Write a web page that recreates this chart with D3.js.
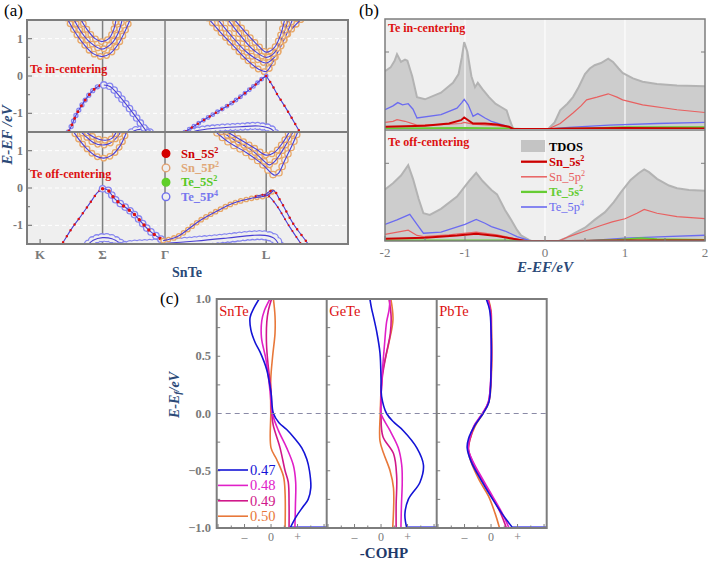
<!DOCTYPE html>
<html>
<head>
<meta charset="utf-8">
<script src="https://cdnjs.cloudflare.com/ajax/libs/d3/7.8.5/d3.min.js"></script>
<style>
  body { margin: 0; background: #fff; }
  svg { display: block; }
  text { font-family: 'Liberation Serif', 'DejaVu Serif', serif; }
</style>
</head>
<body>
<svg id="fig" width="709" height="561" font-family="Liberation Serif, DejaVu Serif, serif"></svg>
<script>
// ---------------- data: panel (a) band structure, [k, E] ----------------
const kNames = ['K', 'Σ', 'Γ', 'L'];
const kPos = [0, 1, 2, 3.62];
const aYTicks = [-1, 0, 1];

// Te in-centering
const inCondS1 = [[0.43,1.55],[0.55,1.2],[0.7,0.85],[0.85,0.6],[0.99,0.52],[1.12,0.6],[1.25,0.85],[1.36,1.2],[1.45,1.55]];
const inCondS2 = [[0.53,1.55],[0.65,1.2],[0.8,0.9],[0.99,0.72],[1.15,0.88],[1.25,1.15],[1.32,1.55]];
const inCondS3 = [[0.64,1.55],[0.75,1.25],[0.88,1.0],[0.99,0.92],[1.1,1.0],[1.18,1.25],[1.22,1.55]];
const inCondL1 = [[2.69,1.55],[2.9,1.15],[3.1,0.8],[3.3,0.45],[3.5,0.18],[3.62,0.12],[3.72,0.35],[3.85,0.8],[4.0,1.2],[4.2,1.55]];
const inCondL2 = [[2.83,1.55],[3.05,1.1],[3.3,0.65],[3.5,0.42],[3.62,0.35],[3.75,0.5],[3.9,0.95],[4.05,1.55]];
const inCondL3 = [[2.99,1.55],[3.2,1.1],[3.4,0.72],[3.62,0.5],[3.75,0.62],[3.88,1.05],[3.98,1.55]];
const inCondL4 = [[3.09,1.55],[3.3,1.15],[3.5,0.8],[3.62,0.64],[3.75,0.76],[3.85,1.1],[3.92,1.55]];
const inValSLeft = [[0.38,-1.6],[0.45,-1.5],[0.59,-1.0],[0.72,-0.65],[0.85,-0.38],[0.95,-0.26],[1.02,-0.24]];
const inValSRight = [[1.02,-0.24],[1.12,-0.28],[1.28,-0.56],[1.49,-1.0],[1.71,-1.5],[1.75,-1.6]];
const inValLLeft = [[2.25,-1.6],[2.32,-1.5],[2.7,-1.1],[3.09,-0.7],[3.4,-0.3],[3.55,-0.08],[3.62,0.0]];
const inValLRight = [[3.62,0.0],[3.7,-0.2],[3.8,-0.5],[3.95,-0.9],[4.16,-1.5],[4.2,-1.6]];
const inHumpS = [[1.4,-1.6],[1.5,-1.47],[1.62,-1.43],[1.75,-1.5],[1.8,-1.6]];
const inHumpL = [[2.3,-1.6],[2.5,-1.47],[2.8,-1.4],[3.2,-1.36],[3.5,-1.34],[3.7,-1.42],[3.8,-1.6]];

// Te off-centering
const offCondS1 = [[0.5,1.6],[0.6,1.35],[0.75,1.05],[0.9,0.85],[1.02,0.8],[1.15,0.88],[1.27,1.1],[1.36,1.4],[1.4,1.6]];
const offCondS2 = [[0.6,1.6],[0.72,1.4],[0.85,1.22],[1.0,1.15],[1.12,1.2],[1.25,1.4],[1.32,1.6]];
const offCondS3 = [[0.68,1.6],[0.8,1.42],[0.95,1.3],[1.05,1.28],[1.15,1.33],[1.25,1.6]];
const offCondL1 = [[2.75,1.6],[3.0,1.25],[3.3,0.95],[3.55,0.65],[3.7,0.4],[3.76,0.34],[3.82,0.4],[3.92,0.75],[4.05,1.2],[4.15,1.6]];
const offCondL2 = [[2.82,1.6],[3.1,1.3],[3.4,1.0],[3.6,0.7],[3.67,0.62],[3.75,0.7],[3.88,1.0],[4.0,1.35],[4.08,1.6]];
const offCondL3 = [[2.9,1.6],[3.2,1.3],[3.45,1.05],[3.62,0.88],[3.75,0.95],[3.9,1.25],[4.02,1.6]];
const offValK = [[0.3,-1.6],[0.35,-1.5],[0.5,-1.1],[0.64,-0.78],[0.8,-0.4],[0.92,-0.12],[1.0,-0.02]];
const offValS = [[1.0,-0.02],[1.08,-0.05],[1.2,-0.3],[1.49,-0.68],[1.75,-1.14],[1.97,-1.41]];
const offValGL = [[1.97,-1.41],[2.2,-1.3],[2.56,-0.87],[2.85,-0.6],[3.09,-0.41],[3.4,-0.27],[3.63,-0.2],[3.73,-0.08]];
const offValL1 = [[3.6,-0.19],[3.73,-0.06],[3.85,-0.35],[4.05,-0.95],[4.29,-1.5],[4.32,-1.6]];
const offValL2 = [[3.45,-0.22],[3.63,-0.19],[3.78,-0.45],[3.98,-1.0],[4.2,-1.55]];
const offHumpS = [[0.72,-1.6],[0.85,-1.4],[1.0,-1.33],[1.15,-1.36],[1.3,-1.5],[1.38,-1.6]];
const offHumpL = [[1.2,-1.6],[1.5,-1.52],[2.0,-1.48],[2.5,-1.42],[3.0,-1.34],[3.4,-1.27],[3.6,-1.27],[3.75,-1.35],[3.85,-1.6]];

const orbitalNames = ['Sn_5S', 'Sn_5P', 'Te_5S', 'Te_5P'];
const orbitalSup = ['2', '2', '2', '4'];

// ---------------- data: panel (b) PDOS, [E, DOS] ----------------
const dosXTicks = [-2, -1, 0, 1, 2];
const tdosIn = [[-2,5.26],[-1.93,5.6],[-1.88,6.2],[-1.85,6.8],[-1.8,6.1],[-1.75,6.3],[-1.72,6.2],[-1.66,4.8],[-1.6,2.9],[-1.5,2.7],[-1.3,3.3],[-1.15,4.2],[-1.08,5.0],[-1.04,6.5],[-1.01,7.9],[-0.97,7.0],[-0.92,4.8],[-0.875,3.8],[-0.84,4.2],[-0.78,3.6],[-0.7,2.9],[-0.62,2.3],[-0.55,2.0],[-0.48,1.7],[-0.44,0.8],[-0.4,0.05],[-0.3,0],[0.04,0],[0.12,0.6],[0.19,1.7],[0.28,2.3],[0.35,2.9],[0.42,3.8],[0.5,5.0],[0.56,5.5],[0.62,5.8],[0.7,6.0],[0.79,6.4],[0.85,6.1],[0.92,5.5],[0.97,5.1],[1.1,4.6],[1.22,4.3],[1.4,4.1],[1.65,3.95],[2.0,3.88]];
const sn5sIn = [[-2,0.2],[-1.5,0.3],[-1.2,0.5],[-1.05,0.8],[-1.01,1.05],[-0.96,0.8],[-0.9,0.5],[-0.75,0.5],[-0.6,0.4],[-0.45,0.2],[-0.4,0],[0.05,0],[0.3,0.05],[1,0.1],[2,0.05]];
const sn5pIn = [[-2,0.6],[-1.9,0.7],[-1.85,0.85],[-1.75,0.7],[-1.6,0.35],[-1.3,0.4],[-1.05,0.5],[-1.01,0.6],[-0.9,0.45],[-0.6,0.3],[-0.42,0.1],[-0.38,0],[0.04,0],[0.19,0.5],[0.35,1.45],[0.45,2.1],[0.52,2.65],[0.65,2.9],[0.79,3.2],[0.9,2.9],[0.97,2.65],[1.22,2.2],[1.65,1.75],[2,1.5]];
const te5sIn = [[-2,0.05],[-1,0.1],[-0.4,0.05],[-0.38,0],[0.05,0],[0.5,0.05],[1,0.15],[1.5,0.15],[2,0.15]];
const te5pIn = [[-2,1.75],[-1.9,2.1],[-1.84,2.4],[-1.78,2.2],[-1.71,2.3],[-1.65,1.8],[-1.6,1.0],[-1.3,1.3],[-1.1,1.9],[-1.04,2.4],[-1.01,2.7],[-0.96,2.2],[-0.9,1.15],[-0.84,1.4],[-0.75,1.0],[-0.67,0.7],[-0.5,0.3],[-0.42,0.1],[-0.38,0],[0.05,0],[0.3,0.15],[0.8,0.35],[1.4,0.5],[2,0.6]];
const tdosOff = [[-2,4.64],[-1.9,5.2],[-1.8,5.9],[-1.71,6.84],[-1.65,5.6],[-1.58,3.8],[-1.52,2.5],[-1.44,2.35],[-1.3,2.9],[-1.1,4.0],[-0.95,5.4],[-0.86,6.14],[-0.78,5.4],[-0.67,4.6],[-0.6,4.2],[-0.5,2.8],[-0.42,1.87],[-0.35,1.0],[-0.3,0.5],[-0.2,0.1],[-0.17,0],[0.17,0],[0.27,0.3],[0.37,0.7],[0.5,1.2],[0.62,1.9],[0.75,2.6],[0.86,3.5],[0.95,4.4],[1.07,5.5],[1.17,6.1],[1.24,6.45],[1.3,6.2],[1.4,5.6],[1.55,5.0],[1.65,4.75],[1.8,4.6],[2,4.52]];
const sn5sOff = [[-2,0.2],[-1.5,0.3],[-1.1,0.5],[-0.86,0.66],[-0.6,0.45],[-0.4,0.2],[-0.25,0],[0.3,0],[1,0.05],[2,0.05]];
const sn5pOff = [[-2,0.6],[-1.71,0.97],[-1.6,0.5],[-1.52,0.4],[-1.2,0.55],[-0.86,0.8],[-0.6,0.55],[-0.4,0.25],[-0.2,0.02],[-0.17,0],[0.17,0],[0.3,0.4],[0.5,0.9],[0.7,1.4],[0.84,1.72],[1.0,2.0],[1.15,2.5],[1.24,2.84],[1.4,2.5],[1.65,2.2],[2,2.02]];
const te5sOff = [[-2,0.05],[-0.3,0.05],[-0.25,0],[0.5,0],[0.9,0.1],[1.2,0.25],[1.4,0.15],[2,0.1]];
const te5pOff = [[-2,1.5],[-1.85,1.9],[-1.69,2.4],[-1.6,1.5],[-1.52,0.7],[-1.3,0.8],[-1.0,1.5],[-0.86,1.95],[-0.75,1.6],[-0.67,1.3],[-0.5,0.9],[-0.35,0.4],[-0.2,0.05],[-0.17,0],[0.5,0],[1.0,0.25],[1.5,0.4],[2,0.52]];
const dosNames = ['Sn_5s', 'Sn_5p', 'Te_5s', 'Te_5p'];

// ---------------- data: panel (c) COHP, [-COHP, E] ----------------
const compounds = ['SnTe', 'GeTe', 'PbTe'];
const fractions = ['0.47', '0.48', '0.49', '0.50'];
const cohpYTicks = [-1, -0.5, 0, 0.5, 1];
const cohpXTicks = [-1, 0, 1];
const cohpXLabels = ['–', '0', '+'];

const snte47 = [[-0.45,1.0],[-0.65,0.92],[-0.79,0.84],[-0.76,0.73],[-0.6,0.62],[-0.42,0.54],[-0.16,0.38],[0.0,0.18],[0.09,0.0],[0.3,-0.08],[0.59,-0.14],[0.9,-0.22],[1.16,-0.3],[1.35,-0.4],[1.45,-0.5],[1.5,-0.65],[1.4,-0.75],[1.22,-0.81],[0.95,-0.9],[0.72,-1.0]];
const snte48 = [[-0.04,1.0],[-0.25,0.9],[-0.35,0.81],[-0.36,0.66],[-0.19,0.47],[-0.04,0.2],[0.05,0.0],[0.28,-0.15],[0.59,-0.3],[0.84,-0.45],[0.93,-0.6],[0.92,-0.8],[0.9,-1.0]];
const snte49 = [[0.02,1.0],[-0.1,0.9],[-0.16,0.8],[-0.17,0.6],[-0.1,0.4],[0.0,0.2],[0.03,0.0],[0.08,-0.1],[0.34,-0.3],[0.53,-0.5],[0.65,-0.6],[0.68,-0.8],[0.68,-1.0]];
const snte50 = [[0.09,1.0],[0.15,0.85],[0.15,0.7],[0.06,0.5],[-0.01,0.3],[-0.01,0.0],[0.0,-0.3],[0.21,-0.4],[0.47,-0.55],[0.53,-0.7],[0.53,-1.0]];
const gete47 = [[-0.42,1.0],[-0.36,0.92],[-0.29,0.85],[-0.16,0.71],[-0.04,0.53],[0.0,0.3],[0.02,0.15],[0.21,0.0],[0.5,-0.08],[0.84,-0.15],[1.35,-0.3],[1.6,-0.45],[1.47,-0.6],[1.03,-0.75],[0.9,-0.88],[0.97,-1.0]];
const gete48 = [[0.34,1.0],[0.3,0.9],[0.21,0.8],[0.13,0.6],[0.03,0.3],[0.0,0.1],[0.0,0.0],[0.34,-0.15],[0.65,-0.3],[0.78,-0.45],[0.8,-0.6],[0.77,-0.8],[0.75,-1.0]];
const gete49 = [[0.3,1.0],[0.38,0.85],[0.35,0.7],[0.18,0.5],[0.04,0.3],[0.0,0.0],[0.07,-0.2],[0.47,-0.35],[0.59,-0.55],[0.57,-0.8],[0.57,-1.0]];
const gete50 = [[0.37,1.0],[0.45,0.82],[0.28,0.6],[0.05,0.35],[-0.03,0.0],[-0.04,-0.24],[0.1,-0.35],[0.34,-0.5],[0.47,-0.65],[0.44,-1.0]];
const pbte47 = [[-0.18,1.0],[-0.05,0.9],[0.0,0.73],[0.0,0.38],[-0.08,0.1],[-0.3,0.0],[-0.6,-0.1],[-0.85,-0.22],[-0.9,-0.3],[-0.75,-0.42],[-0.38,-0.58],[-0.02,-0.72],[0.4,-0.87],[0.82,-1.0]];
const pbte48 = [[-0.14,1.0],[-0.03,0.9],[0.0,0.73],[0.0,0.38],[-0.1,0.1],[-0.33,0.0],[-0.65,-0.11],[-0.82,-0.23],[-0.86,-0.31],[-0.68,-0.42],[-0.3,-0.58],[0.05,-0.72],[0.42,-0.87],[0.68,-1.0]];
const pbte49 = [[-0.12,1.0],[-0.02,0.9],[0.01,0.73],[0.01,0.38],[-0.1,0.1],[-0.32,0.0],[-0.63,-0.11],[-0.8,-0.23],[-0.85,-0.31],[-0.7,-0.42],[-0.33,-0.58],[0.02,-0.72],[0.36,-0.87],[0.58,-1.0]];
const pbte50 = [[-0.1,1.0],[0.0,0.9],[0.02,0.73],[0.02,0.38],[-0.08,0.1],[-0.3,0.0],[-0.6,-0.11],[-0.8,-0.23],[-0.86,-0.32],[-0.76,-0.42],[-0.45,-0.58],[-0.1,-0.72],[0.15,-0.87],[0.32,-1.0]];

// ---------------- drawing ----------------
const svg = d3.select('#fig');
const panelBg = '#efefef';
const frame = '#7d7d7d';
const tickGray = '#7a7a7a';
const navy = '#2b4a78';
const red = '#dd1111';
const defs = svg.append('defs');

function clipRect(id, x, y, w, h) {
  defs.append('clipPath').attr('id', id).append('rect')
    .attr('x', x).attr('y', y).attr('width', w).attr('height', h);
  return `url(#${id})`;
}

function supText(g, x, y, base, sup, color, size, weight) {
  const t = g.append('text').attr('x', x).attr('y', y)
    .attr('fill', color).attr('font-size', size).attr('font-weight', weight);
  t.append('tspan').text(base);
  t.append('tspan').attr('dy', -5).attr('font-size', size * 0.65).text(sup);
  return t;
}

// ===== panel (a) =====
const aX = d3.scaleLinear().domain([-0.21, 4.93]).range([27, 348]);
const aTop = d3.scaleLinear().domain([-1.5, 1.5]).range([132, 20]);
const aBot = d3.scaleLinear().domain([-1.5, 1.5]).range([244, 132]);
const orange = '#e8a868';
const ringBlue = '#8585f0';
const lineBlue = '#4a3fd6';
const dotRed = '#dd1010';

// fat-band rings: round-capped zero-length dashes, hollowed with the background colour
function ring(g, d, color, r, gap) {
  g.append('path').attr('d', d).attr('fill', 'none').attr('stroke', color)
    .attr('stroke-width', 2 * r + 1.3).attr('stroke-linecap', 'round')
    .attr('stroke-dasharray', `0 ${gap}`);
  g.append('path').attr('d', d).attr('fill', 'none').attr('stroke', panelBg)
    .attr('stroke-width', Math.max(2 * r - 1.3, 0.5)).attr('stroke-linecap', 'round')
    .attr('stroke-dasharray', `0 ${gap}`);
}

function drawBands(y, bands, clipId, title, titleY) {
  const [y1, y0] = y.range();
  const g = svg.append('g');
  g.append('rect').attr('x', 27).attr('y', y0).attr('width', 321).attr('height', y1 - y0).attr('fill', panelBg);
  g.selectAll('.grid').data(aYTicks).enter().append('line')
    .attr('x1', 27).attr('x2', 348).attr('y1', d => y(d)).attr('y2', d => y(d))
    .attr('stroke', '#fff').attr('stroke-width', 1).attr('stroke-dasharray', '4 3');
  g.selectAll('.kline').data(kPos.slice(1)).enter().append('line')
    .attr('x1', d => aX(d)).attr('x2', d => aX(d)).attr('y1', y0).attr('y2', y1)
    .attr('stroke', '#808080').attr('stroke-width', 1.5);

  const line = d3.line().x(d => aX(d[0])).y(d => y(d[1])).curve(d3.curveCatmullRom);
  const bg = g.append('g').attr('clip-path', clipRect(clipId, 27, y0, 321, y1 - y0));
  bands.forEach(b => {
    const d = line(b.pts);
    if (b.ring) ring(bg, d, b.ring === 'o' ? orange : ringBlue, b.r, b.gap);
    bg.append('path').attr('d', d).attr('fill', 'none').attr('stroke', lineBlue).attr('stroke-width', 1.1);
    if (b.dots) {
      bg.append('path').attr('d', d).attr('fill', 'none').attr('stroke', dotRed)
        .attr('stroke-width', b.dots).attr('stroke-linecap', 'round').attr('stroke-dasharray', '0 7');
    }
  });

  // left ticks
  const minor = d3.range(-1.5, 1.51, 0.5);
  g.selectAll('.tk').data(minor).enter().append('line')
    .attr('x1', 27).attr('x2', d => 27 + (Number.isInteger(d) ? 5 : 3))
    .attr('y1', d => y(d)).attr('y2', d => y(d)).attr('stroke', frame).attr('stroke-width', 1.2);
  g.selectAll('.tl').data(aYTicks).enter().append('text')
    .attr('x', 23).attr('y', d => y(d) + 4).attr('text-anchor', 'end')
    .attr('font-size', 12).attr('font-weight', 'bold').attr('fill', tickGray).text(d => d);
  g.append('text').attr('x', 30).attr('y', titleY).attr('fill', red)
    .attr('font-size', 12).attr('font-weight', 'bold').text(title);
}

const inBands = [
  { pts: inCondS1, ring: 'o', r: 2.8, gap: 6.5 },
  { pts: inCondS2, ring: 'o', r: 2.8, gap: 6.5 },
  { pts: inCondS3, ring: 'o', r: 2.8, gap: 6.5 },
  { pts: inCondL1, ring: 'o', r: 2.8, gap: 6.5 },
  { pts: inCondL2, ring: 'o', r: 2.8, gap: 6.5 },
  { pts: inCondL3, ring: 'o', r: 2.8, gap: 6.5 },
  { pts: inCondL4, ring: 'o', r: 2.8, gap: 6.5 },
  { pts: inHumpS, ring: 'b', r: 3.5, gap: 5 },
  { pts: inHumpL, ring: 'b', r: 3.5, gap: 5 },
  { pts: inValSLeft, ring: 'b', r: 2, gap: 6, dots: 3 },
  { pts: inValSRight, ring: 'b', r: 3.2, gap: 6 },
  { pts: inValLLeft, ring: 'b', r: 1.8, gap: 5.5, dots: 2.5 },
  { pts: inValLRight, dots: 2.5 },
];
const offBands = [
  { pts: offCondS1, ring: 'o', r: 2.8, gap: 6.5 },
  { pts: offCondS2, ring: 'o', r: 2.8, gap: 6.5 },
  { pts: offCondS3, ring: 'o', r: 2.8, gap: 6.5 },
  { pts: offCondL1, ring: 'o', r: 3.2, gap: 7 },
  { pts: offCondL2, ring: 'o', r: 2.8, gap: 6.5 },
  { pts: offCondL3, ring: 'o', r: 2.8, gap: 6.5 },
  { pts: offHumpS, ring: 'b', r: 4, gap: 5 },
  { pts: offHumpL, ring: 'b', r: 4.5, gap: 5 },
  { pts: offValK, dots: 2.5 },
  { pts: offValS, ring: 'b', r: 3.2, gap: 6, dots: 3.5 },
  { pts: offValGL, ring: 'o', r: 2.2, gap: 5.5 },
  { pts: offValL1, dots: 2.5 },
  { pts: offValL2, dots: 2 },
];
drawBands(aTop, inBands, 'clipA1', 'Te in-centering', 73);
drawBands(aBot, offBands, 'clipA2', 'Te off-centering', 178);

// frame & divider
svg.append('rect').attr('x', 27).attr('y', 20).attr('width', 321).attr('height', 224)
  .attr('fill', 'none').attr('stroke', frame).attr('stroke-width', 2);
svg.append('line').attr('x1', 27).attr('x2', 348).attr('y1', 132).attr('y2', 132)
  .attr('stroke', frame).attr('stroke-width', 2);
svg.append('line').attr('x1', aX(0)).attr('x2', aX(0)).attr('y1', 244).attr('y2', 239)
  .attr('stroke', frame).attr('stroke-width', 1.2);
svg.selectAll('.kn').data(kNames).enter().append('text')
  .attr('x', (d, i) => aX(kPos[i])).attr('y', 259).attr('text-anchor', 'middle')
  .attr('font-size', 13).attr('font-weight', 'bold').attr('fill', tickGray).text(d => d);
svg.append('text').attr('x', 187).attr('y', 277).attr('text-anchor', 'middle')
  .attr('font-size', 14).attr('font-weight', 'bold').attr('fill', navy).text('SnTe');
svg.append('text').attr('transform', 'translate(12,135) rotate(-90)').attr('text-anchor', 'middle')
  .attr('font-size', 15).attr('font-weight', 'bold').attr('font-style', 'italic').attr('fill', navy).text('E-EF /eV');
svg.append('text').attr('x', 4).attr('y', 16).attr('font-size', 17).text('(a)');

// legend (a)
const legA = svg.append('g');
const legAColors = ['#d40000', '#e0a070', '#5fcf2a', '#7070ee'];
const legATextColors = ['#cc0000', '#e0a878', '#55c822', '#7777ee'];
const legAFilled = [true, false, true, false];
orbitalNames.forEach((name, i) => {
  const yy = 153.5 + i * 14.4;
  legA.append('circle').attr('cx', 166).attr('cy', yy).attr('r', 3.8)
    .attr('fill', legAFilled[i] ? legAColors[i] : panelBg)
    .attr('stroke', legAColors[i]).attr('stroke-width', 1.4);
  supText(legA, 181, yy + 4, name, orbitalSup[i], legATextColors[i], 12.5, 'bold');
});

// ===== panel (b) =====
const bX = d3.scaleLinear().domain([-2, 2]).range([385, 705]);
const bTop = d3.scaleLinear().domain([0, 10]).range([129, 19]);
const bBot = d3.scaleLinear().domain([0, 10]).range([241, 130]);
const dosColors = ['#cc0000', '#e86060', '#66cc33', '#6b6bf0'];
const dosWidths = [2, 1.2, 2, 1.3];

function drawDos(y, tdos, parts, clipId, title, titleY) {
  const [y1, y0] = y.range();
  const g = svg.append('g');
  g.append('rect').attr('x', 385).attr('y', y0).attr('width', 320).attr('height', y1 - y0).attr('fill', panelBg);
  const cg = g.append('g').attr('clip-path', clipRect(clipId, 385, y0, 320, y1 - y0));
  const area = d3.area().x(d => bX(d[0])).y0(y(0)).y1(d => y(d[1]));
  const line = d3.line().x(d => bX(d[0])).y(d => y(d[1]));
  cg.append('path').attr('d', area(tdos)).attr('fill', '#cdcdcd');
  cg.selectAll('.vg').data([-1, 0, 1]).enter().append('line')
    .attr('x1', d => bX(d)).attr('x2', d => bX(d)).attr('y1', y0).attr('y2', y1)
    .attr('stroke', '#fff').attr('stroke-width', 1.3).attr('opacity', 0.85);
  cg.append('path').attr('d', line(tdos)).attr('fill', 'none').attr('stroke', '#b3b3b3').attr('stroke-width', 2);
  [1, 3, 2, 0].forEach(i => {
    cg.append('path').attr('d', line(parts[i])).attr('fill', 'none')
      .attr('stroke', dosColors[i]).attr('stroke-width', dosWidths[i]);
  });
  [7].forEach(v => {
    g.append('line').attr('x1', 385).attr('x2', 389).attr('y1', y(v)).attr('y2', y(v)).attr('stroke', frame);
    g.append('line').attr('x1', 705).attr('x2', 701).attr('y1', y(v)).attr('y2', y(v)).attr('stroke', frame);
  });
  g.append('text').attr('x', 388).attr('y', titleY).attr('fill', red)
    .attr('font-size', 12).attr('font-weight', 'bold').text(title);
}
drawDos(bTop, tdosIn, [sn5sIn, sn5pIn, te5sIn, te5pIn], 'clipB1', 'Te in-centering', 32);
drawDos(bBot, tdosOff, [sn5sOff, sn5pOff, te5sOff, te5pOff], 'clipB2', 'Te off-centering', 146);

svg.append('rect').attr('x', 385).attr('y', 19).attr('width', 320).attr('height', 222)
  .attr('fill', 'none').attr('stroke', frame).attr('stroke-width', 1.5);
svg.append('line').attr('x1', 385).attr('x2', 705).attr('y1', 130).attr('y2', 130)
  .attr('stroke', frame).attr('stroke-width', 1.5);
svg.selectAll('.bt').data(d3.range(-2, 2.01, 0.5)).enter().append('line')
  .attr('x1', d => bX(d)).attr('x2', d => bX(d)).attr('y1', 241)
  .attr('y2', d => 241 - (Number.isInteger(d) ? 5 : 3)).attr('stroke', frame).attr('stroke-width', 1.2);
svg.selectAll('.btl').data(dosXTicks).enter().append('text')
  .attr('x', d => bX(d)).attr('y', 257).attr('text-anchor', 'middle')
  .attr('font-size', 13).attr('fill', tickGray).text(d => d);
svg.append('text').attr('x', 545).attr('y', 272).attr('text-anchor', 'middle')
  .attr('font-size', 15).attr('font-weight', 'bold').attr('font-style', 'italic').attr('fill', navy).text('E-EF/eV');
svg.append('text').attr('x', 359).attr('y', 16).attr('font-size', 17).text('(b)');

// legend (b)
const legB = svg.append('g');
legB.append('rect').attr('x', 521).attr('y', 140).attr('width', 24).attr('height', 12).attr('fill', '#c4c4c4');
legB.append('text').attr('x', 549).attr('y', 150.5).attr('font-size', 12.5).attr('font-weight', 'bold').text('TDOS');
const legBWeights = ['bold', 'normal', 'bold', 'normal'];
dosNames.forEach((name, i) => {
  const yy = 161.7 + i * 15.1;
  legB.append('line').attr('x1', 521).attr('x2', 547).attr('y1', yy).attr('y2', yy)
    .attr('stroke', dosColors[i]).attr('stroke-width', dosWidths[i] + 0.3);
  supText(legB, 549, yy + 4, name, orbitalSup[i], dosColors[i], 12.5, legBWeights[i]);
});

// ===== panel (c) =====
const cY = d3.scaleLinear().domain([-1, 1]).range([528, 299]);
const cLeft = [216.7, 326.7, 436.7];
const cW = 110;
const cohpColors = ['#1414d6', '#e020c8', '#d0188a', '#e8783a'];
const cohpSets = [[snte47, snte48, snte49, snte50], [gete47, gete48, gete49, gete50], [pbte47, pbte48, pbte49, pbte50]];

compounds.forEach((name, ci) => {
  const x = d3.scaleLinear().domain([-2.05, 2.1]).range([cLeft[ci], cLeft[ci] + cW]);
  const g = svg.append('g');
  const cg = g.append('g').attr('clip-path', clipRect('clipC' + ci, cLeft[ci], 299, cW, 229));
  const line = d3.line().x(d => x(d[0])).y(d => cY(d[1])).curve(d3.curveCatmullRom);
  // blue trace along the bottom edge
  const last47 = cohpSets[ci][0][cohpSets[ci][0].length - 1];
  cg.append('line').attr('x1', x(last47[0])).attr('x2', x(2.1)).attr('y1', cY(-1) - 1).attr('y2', cY(-1) - 1)
    .attr('stroke', '#4f4ff0').attr('stroke-width', 1.5);
  [3, 2, 1, 0].forEach(i => {
    cg.append('path').attr('d', line(cohpSets[ci][i])).attr('fill', 'none')
      .attr('stroke', cohpColors[i]).attr('stroke-width', 1.6);
  });
  // ticks
  g.selectAll('.ly').data(d3.range(-1, 1.01, 0.25)).enter().append('line')
    .attr('x1', cLeft[ci]).attr('x2', cLeft[ci] + 3.5).attr('y1', d => cY(d)).attr('y2', d => cY(d))
    .attr('stroke', frame).attr('stroke-width', 1);
  g.selectAll('.bx').data(d3.range(-2, 2.01, 0.5)).enter().append('line')
    .attr('x1', d => x(d)).attr('x2', d => x(d)).attr('y1', 528)
    .attr('y2', d => 528 - (Number.isInteger(d) ? 4 : 2.5)).attr('stroke', frame).attr('stroke-width', 1);
  g.selectAll('.bxl').data(cohpXTicks).enter().append('text')
    .attr('x', d => x(d)).attr('y', 541).attr('text-anchor', 'middle')
    .attr('font-size', 12).attr('fill', tickGray).text((d, i) => cohpXLabels[i]);
  g.append('text').attr('x', cLeft[ci] + 2.5).attr('y', 316).attr('fill', red).attr('font-size', 14.5).text(name);
});

svg.append('line').attr('x1', 216.7).attr('x2', 546.7).attr('y1', cY(0)).attr('y2', cY(0))
  .attr('stroke', '#8a8aa6').attr('stroke-width', 1).attr('stroke-dasharray', '5 4');
svg.append('rect').attr('x', 216.7).attr('y', 299).attr('width', 330).attr('height', 229)
  .attr('fill', 'none').attr('stroke', frame).attr('stroke-width', 2);
[326.7, 436.7].forEach(x => svg.append('line').attr('x1', x).attr('x2', x).attr('y1', 299).attr('y2', 528)
  .attr('stroke', frame).attr('stroke-width', 2));
svg.selectAll('.cyl').data(cohpYTicks).enter().append('text')
  .attr('x', 211).attr('y', d => cY(d) + 4).attr('text-anchor', 'end')
  .attr('font-size', 12.5).attr('font-weight', 'bold').attr('fill', tickGray).text(d => d3.format('.1f')(d));
const cyLab = svg.append('text').attr('transform', 'translate(179,395) rotate(-90)').attr('text-anchor', 'middle')
  .attr('font-size', 14).attr('font-weight', 'bold').attr('font-style', 'italic').attr('fill', navy);
cyLab.append('tspan').text('E-E');
cyLab.append('tspan').attr('font-size', 10).attr('dy', 2).text('f');
cyLab.append('tspan').attr('dy', -2).text('/eV');
svg.append('text').attr('x', 384).attr('y', 558).attr('text-anchor', 'middle')
  .attr('font-size', 15).attr('font-weight', 'bold').attr('fill', '#1f3a6a').text('-COHP');
svg.append('text').attr('x', 160).attr('y', 304).attr('font-size', 17).text('(c)');

// legend (c)
fractions.forEach((f, i) => {
  const yy = 470 + i * 15.4;
  svg.append('line').attr('x1', 218).attr('x2', 248).attr('y1', yy).attr('y2', yy)
    .attr('stroke', cohpColors[i]).attr('stroke-width', 1.6);
  svg.append('text').attr('x', 250).attr('y', yy + 5).attr('font-size', 14.5)
    .attr('fill', cohpColors[i]).text(f);
});
</script>
</body>
</html>
